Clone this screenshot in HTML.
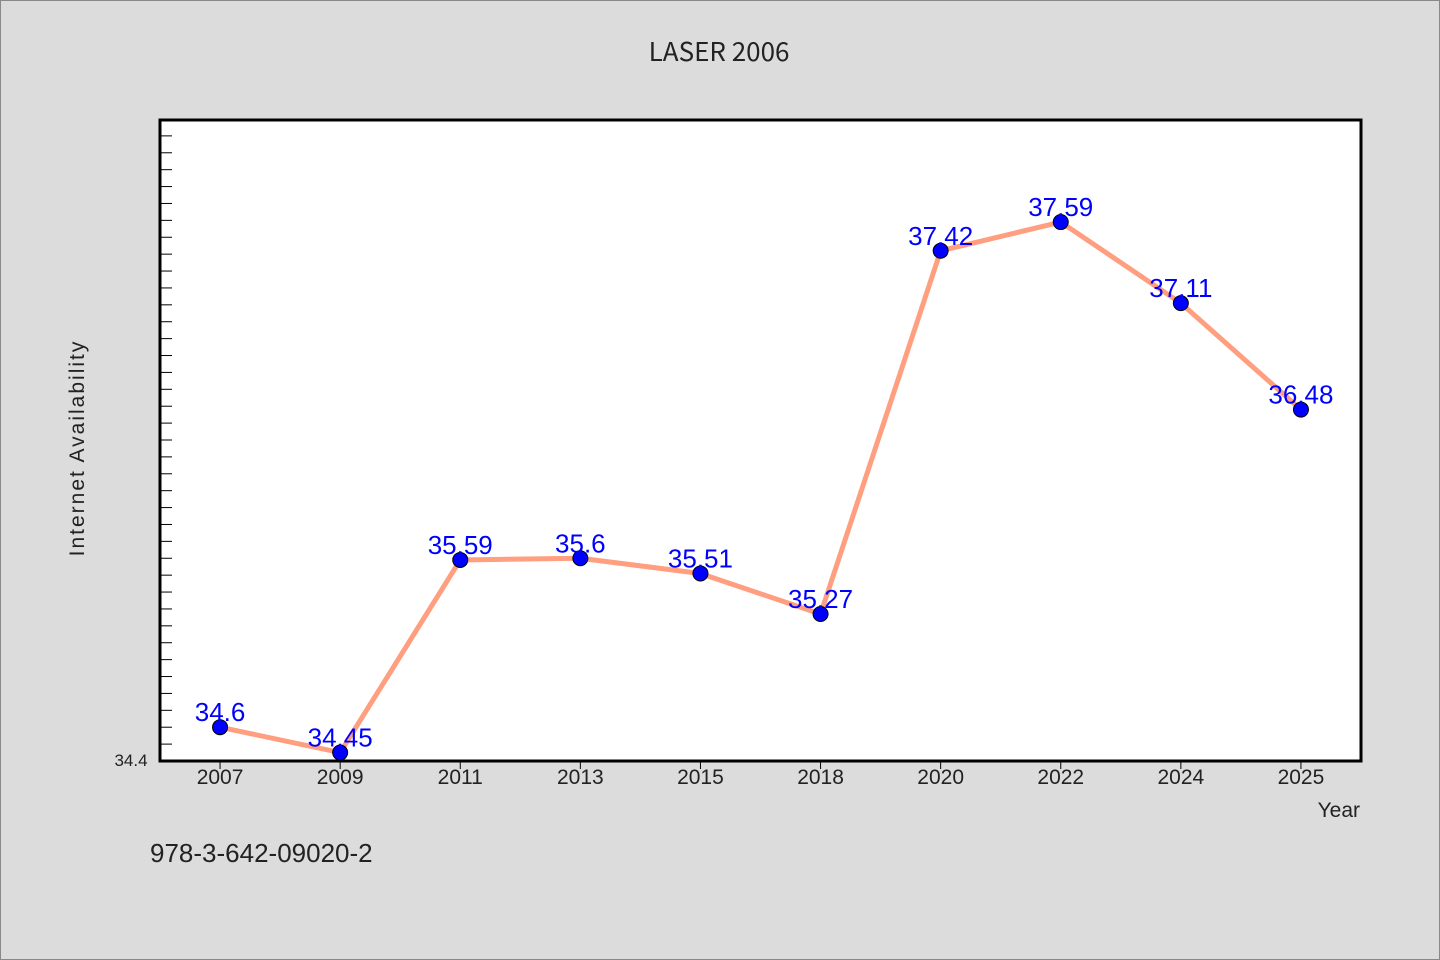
<!DOCTYPE html>
<html><head><meta charset="utf-8"><style>
body{margin:0;background:#dcdcdc;}
svg{display:block;}
</style></head><body>
<svg width="1440" height="960">
<rect x="0.5" y="0.5" width="1439" height="959" fill="#dcdcdc" stroke="#888"/>
<text x="719" y="61" text-anchor="middle" font-family="'WenQuanYi Zen Hei','Noto Sans CJK SC',sans-serif" font-size="26" fill="#222">LASER 2006</text>
<rect x="160" y="120" width="1201" height="641" fill="#fff"/>
<g id="ticks"></g>
<g id="marks"></g>
<rect x="160" y="120" width="1201" height="641" fill="none" stroke="#000" stroke-width="3"/>
<text x="131" y="766" text-anchor="middle" font-family="'WenQuanYi Zen Hei',sans-serif" font-size="17" fill="#222">34.4</text>
<text transform="translate(84,448) rotate(-90)" text-anchor="middle" font-family="'WenQuanYi Zen Hei',sans-serif" font-size="21" letter-spacing="2" fill="#222">Internet Availability</text>
<text x="1360" y="817" text-anchor="end" font-family="'WenQuanYi Zen Hei',sans-serif" font-size="21" fill="#222">Year</text>
<text x="150" y="862" font-family="'WenQuanYi Zen Hei',sans-serif" font-size="26" fill="#222">978-3-642-09020-2</text>
</svg>
<script>
const categories=["2007","2009","2011","2013","2015","2018","2020","2022","2024","2025"];
const values=[34.6,34.45,35.59,35.6,35.51,35.27,37.42,37.59,37.11,36.48];
const labels=["34.6","34.45","35.59","35.6","35.51","35.27","37.42","37.59","37.11","36.48"];
const yMin=34.4, yMax=38.194;
const L=160,R=1361,T=120,B=761;
const NS="http://www.w3.org/2000/svg";
function x(i){return L+(R-L)/categories.length*(i+0.5);}
function y(v){return B-(v-yMin)/(yMax-yMin)*(B-T);}
function mk(tag,attrs,parent){const e=document.createElementNS(NS,tag);for(const k in attrs)e.setAttribute(k,attrs[k]);parent.appendChild(e);return e;}
const tg=document.getElementById('ticks'),mg=document.getElementById('marks');
for(let k=1;k<=37;k++){const v=yMin+k*0.1;if(v>yMax)break;
 const t=mk('line',{x1:L,x2:L+12,y1:y(v),y2:y(v),stroke:'#000','stroke-width':1},tg);
 
 }
categories.forEach((c,i)=>{
 const t=mk('line',{x1:x(i),x2:x(i),y1:B,y2:B+8,stroke:'#000','stroke-width':1},tg);
 
 
 const tx=mk('text',{x:x(i),y:B+23,'text-anchor':'middle','font-family':"'WenQuanYi Zen Hei',sans-serif",'font-size':21,fill:'#222'},tg);
 tx.textContent=c;
 
 
});
const pl=mk('polyline',{points:values.map((v,i)=>x(i)+','+y(v)).join(' '),fill:'none',stroke:'#ff9f7f','stroke-width':5,'stroke-linejoin':'round'},mg);


values.forEach((v,i)=>{
 const c=mk('circle',{cx:x(i),cy:y(v),r:7.5,fill:'#0000ff',stroke:'#000','stroke-width':1},mg);
 
 
});
values.forEach((v,i)=>{
 const t=mk('text',{x:x(i),y:y(v)-6,'text-anchor':'middle','font-family':"'Liberation Sans',sans-serif",'font-size':26,fill:'#0000ff'},mg);
 t.textContent=labels[i];
 
 
});
</script>
</body></html>
